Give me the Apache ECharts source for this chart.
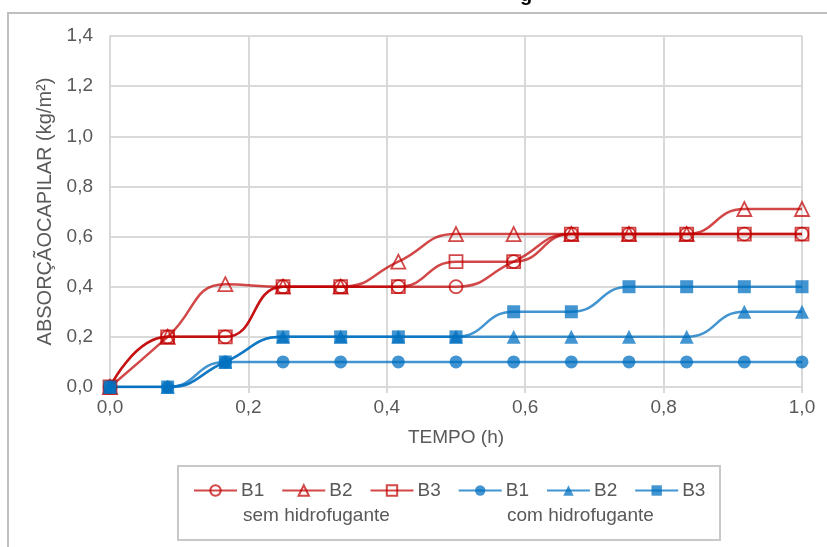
<!DOCTYPE html>
<html>
<head>
<meta charset="utf-8">
<script src="https://cdn.jsdelivr.net/npm/echarts@6/dist/echarts.min.js"></script>
<style>
  html, body { margin: 0; padding: 0; background: #fff; }
  #chart { width: 827px; height: 547px; }
</style>
</head>
<body>
<div id="chart"></div>
<script>
// Time of reading, in hours (every 5 minutes)
const tempo = [0, 1/12, 2/12, 3/12, 4/12, 5/12, 6/12, 7/12, 8/12, 9/12, 10/12, 11/12, 1];

// Capillary absorption (kg/m²) without water repellent
const semB1 = [0, 0.2, 0.2, 0.4, 0.4, 0.4, 0.4, 0.5, 0.61, 0.61, 0.61, 0.61, 0.61];
const semB2 = [0, 0.2, 0.41, 0.4, 0.4, 0.5, 0.61, 0.61, 0.61, 0.61, 0.61, 0.71, 0.71];
const semB3 = [0, 0.2, 0.2, 0.4, 0.4, 0.4, 0.5, 0.5, 0.61, 0.61, 0.61, 0.61, 0.61];

// Capillary absorption (kg/m²) with water repellent
const comB1 = [0, 0, 0.1, 0.1, 0.1, 0.1, 0.1, 0.1, 0.1, 0.1, 0.1, 0.1, 0.1];
const comB2 = [0, 0, 0.1, 0.2, 0.2, 0.2, 0.2, 0.2, 0.2, 0.2, 0.2, 0.3, 0.3];
const comB3 = [0, 0, 0.1, 0.2, 0.2, 0.2, 0.2, 0.3, 0.3, 0.4, 0.4, 0.4, 0.4];

const seriesNames = ['B1', 'B2', 'B3'];
const groupLabels = ['sem hidrofugante', 'com hidrofugante'];

const RED = 'rgba(192,0,0,0.72)';
const BLUE = 'rgba(0,112,192,0.74)';
const FONT = 'Liberation Sans, Arial, sans-serif';
const GREY = '#595959';

function pairs(ys) { return tempo.map((t, i) => [t, ys[i]]); }

function redSeries(name, symbol, ys) {
  return {
    name: name + ' ' + groupLabels[0],
    type: 'line',
    smooth: 0.5,
    data: pairs(ys),
    symbol: symbol,
    symbolSize: symbol === 'triangle' ? 14 : 13,
    lineStyle: { color: RED, width: 2.5 },
    itemStyle: { color: 'rgba(255,255,255,0)', borderColor: RED, borderWidth: 1.8 },
    emphasis: { disabled: true }
  };
}
function blueSeries(name, symbol, ys) {
  return {
    name: name + ' ' + groupLabels[1],
    type: 'line',
    smooth: 0.5,
    data: pairs(ys),
    symbol: symbol,
    symbolSize: symbol === 'triangle' ? 14 : 13,
    lineStyle: { color: BLUE, width: 2.5 },
    itemStyle: { color: BLUE, borderWidth: 0 },
    emphasis: { disabled: true }
  };
}

const series = [
  redSeries(seriesNames[0], 'circle', semB1),
  redSeries(seriesNames[1], 'triangle', semB2),
  redSeries(seriesNames[2], 'rect', semB3),
  blueSeries(seriesNames[0], 'circle', comB1),
  blueSeries(seriesNames[1], 'triangle', comB2),
  blueSeries(seriesNames[2], 'rect', comB3)
];

const fmt = v => v.toFixed(1).replace('.', ',');

const chart = echarts.init(document.getElementById('chart'), null, { renderer: 'canvas' });
chart.setOption({
  animation: false,
  backgroundColor: '#fff',
  textStyle: { fontFamily: FONT },
  grid: { left: 110, right: 25, top: 36, bottom: 160, containLabel: false },
  xAxis: {
    type: 'value', min: 0, max: 1, interval: 0.2,
    name: 'TEMPO (h)', nameLocation: 'middle', nameGap: 41,
    nameTextStyle: { color: GREY, fontSize: 19, fontFamily: FONT },
    axisLine: { show: true, lineStyle: { color: '#d9d9d9', width: 2 } },
    axisTick: { show: true, length: 6, lineStyle: { color: '#d9d9d9', width: 2 } },
    axisLabel: { color: GREY, fontSize: 19, margin: 11, formatter: fmt, fontFamily: FONT },
    splitLine: { show: true, lineStyle: { color: '#d9d9d9', width: 2 } }
  },
  yAxis: {
    type: 'value', min: 0, max: 1.4, interval: 0.2,
    name: 'ABSORÇÃOCAPILAR (kg/m²)', nameLocation: 'middle', nameGap: 53,
    nameTextStyle: { color: GREY, fontSize: 20, fontFamily: FONT },
    axisLine: { show: true, lineStyle: { color: '#d9d9d9', width: 2 } },
    axisTick: { show: false },
    axisLabel: { color: GREY, fontSize: 19, margin: 17, formatter: fmt, fontFamily: FONT },
    splitLine: { show: true, lineStyle: { color: '#d9d9d9', width: 2 } }
  },
  legend: {
    left: 193, top: 481, padding: 0,
    itemWidth: 43, itemHeight: 13, itemGap: 17,
    formatter: n => n.split(' ')[0],
    textStyle: { color: GREY, fontSize: 19, fontFamily: FONT, padding: [0, 0, 0, -1] },
    data: series.map(s => s.name)
  },
  graphic: [
    { type: 'rect', silent: true, z: -1,
      shape: { x: 8, y: 13, width: 900, height: 700 },
      style: { fill: 'none', stroke: '#bfbfbf', lineWidth: 2 } },
    { type: 'rect', silent: true,
      shape: { x: 178, y: 466, width: 542, height: 74 },
      style: { fill: 'none', stroke: '#c8c8c8', lineWidth: 2 } },
    { type: 'text', silent: true, left: 243, top: 506,
      style: { text: groupLabels[0], fill: GREY, font: '19px ' + FONT } },
    { type: 'text', silent: true, left: 507, top: 506,
      style: { text: groupLabels[1], fill: GREY, font: '19px ' + FONT } },
    { type: 'text', silent: true, x: 520, y: -5,
      style: { text: 'g', fill: '#000', font: 'bold 20px ' + FONT, verticalAlign: 'middle' } }
  ],
  series: series
});
</script>
</body>
</html>
